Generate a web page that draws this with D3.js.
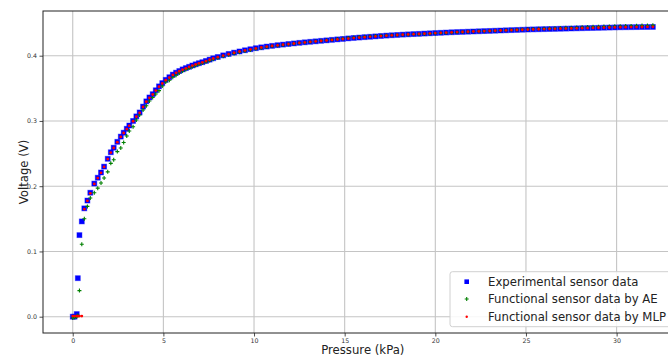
<!DOCTYPE html>
<html><head><meta charset="utf-8">
<script src="https://cdn.jsdelivr.net/npm/d3@7"></script>
<style>body{margin:0;background:#fff}svg{display:block}text{font-family:"DejaVu Sans",sans-serif}</style>
</head><body>
<svg id="c" width="668" height="356"></svg>
<script>
// Pressure (kPa), shared by all series
const pressure = [0,0.1,0.22,0.28,0.37,0.5,0.64,0.81,0.97,1.19,1.38,1.56,1.73,1.93,2.10,2.26,2.46,2.65,2.81,2.98,3.12,3.33,3.51,3.69,3.88,4.06,4.23,4.41,4.58,4.76,4.94,5.13,5.33,5.52,
5.70,5.88,6.06,6.24,6.42,6.60,6.78,6.96,7.15,7.35,7.55,7.75,8.0,
8.3,8.6,8.9,9.2,9.5,9.8,10.1,10.4,10.7,11.0,11.3,11.6,11.9,12.2,12.5,12.8,13.1,13.4,13.7,14.0,14.3,14.6,14.9,15.2,15.5,15.8,16.1,16.4,16.7,17.0,17.3,17.6,17.9,18.2,18.5,18.8,19.1,19.4,19.7,20.0,20.3,20.6,20.9,21.2,21.5,21.8,22.1,22.4,22.7,23.0,23.3,23.6,23.9,24.2,24.5,24.8,25.1,25.4,25.7,26.0,26.3,26.6,26.9,27.2,27.5,27.8,28.1,28.4,28.7,29.0,29.3,29.6,29.9,30.2,30.5,30.8,31.1,31.4,31.7,32.0];

const experimental = [0,0,0.004,0.059,0.125,0.146,0.166,0.178,0.190,0.204,0.213,0.221,0.230,0.242,0.252,0.259,0.268,0.276,0.282,0.288,0.293,0.300,0.307,0.313,0.322,0.330,0.336,0.341,0.347,0.353,0.358,0.363,0.367,0.371,
0.374,0.3765,0.379,0.381,0.383,0.385,0.3868,0.3885,0.390,0.392,0.394,0.396,0.398,
0.4005,0.4027,0.4047,0.4065,0.4083,0.4099,0.4115,0.4128,0.414,0.4151,0.4161,0.417,0.4179,0.4188,0.4197,0.4205,0.4213,0.422,0.4228,0.4235,0.4243,0.425,0.4257,0.4265,0.4272,0.4278,0.4284,0.429,0.4296,0.4302,0.4308,0.4313,0.4318,0.4323,0.4327,0.4331,0.4335,0.4339,0.4343,0.4347,0.4351,0.4355,0.4359,0.4362,0.4365,0.4368,0.4371,0.4374,0.4377,0.438,0.4383,0.4386,0.4389,0.4392,0.4395,0.4398,0.4401,0.4403,0.4405,0.4407,0.4409,0.4411,0.4413,0.4415,0.4417,0.4419,0.4421,0.4423,0.4425,0.4427,0.4429,0.4431,0.4433,0.4435,0.4436,0.4437,0.4438,0.4439,0.444,0.4441];

const aeFunctional = [-0.002,-0.001,0.0,0.002,0.040,0.111,0.150,0.169,0.182,0.190,0.197,0.205,0.2125,0.222,0.235,0.2406,0.253,0.2585,0.267,0.277,0.2846,0.291,0.3015,0.309,0.3168,0.3234,0.3306,0.336,0.3413,0.3464,0.3536,0.3597,0.3623,0.367,
0.3700,0.3735,0.3765,0.379,0.381,0.383,0.385,0.387,0.3888,0.3906,0.3925,0.3945,0.3967,
0.3992,0.4014,0.4035,0.4054,0.4072,0.4089,0.4105,0.4119,0.4132,0.4144,0.4155,0.4165,0.4175,0.4185,0.4194,0.4203,0.4212,0.4221,0.4229,0.4237,0.4246,0.4254,0.4262,0.4271,0.4279,0.4286,0.4292,0.4298,0.4303,0.4307,0.4311,0.4314,0.4317,0.432,0.4323,0.4327,0.433,0.4334,0.4338,0.4342,0.4346,0.435,0.4354,0.4358,0.4362,0.4366,0.437,0.4373,0.4376,0.4379,0.4383,0.4387,0.4391,0.4395,0.4399,0.4403,0.4406,0.4409,0.4412,0.4415,0.4418,0.4421,0.4424,0.4427,0.443,0.4433,0.4436,0.4439,0.4442,0.4445,0.4447,0.4449,0.4451,0.4453,0.4455,0.4457,0.4459,0.4461,0.4463,0.4465];

const mlpFunctional = [0.001,0.001,0.001,0.001,0.001,0.001,0.165,0.1775,0.189,0.2035,0.2125,0.2205,0.2295,0.2415,0.2515,0.2585,0.2675,0.2755,0.2815,0.2875,0.2925,0.2995,0.3065,0.3125,0.3215,0.3295,0.3355,0.3405,0.3465,0.3525,0.3575,0.3625,0.3665,0.3705,
0.3738,0.3762,0.3786,0.3807,0.3828,0.3848,0.3866,0.3883,0.3899,0.3918,0.3938,0.3957,0.3978,
0.4002,0.4024,0.4045,0.4064,0.4081,0.4097,0.4112,0.4126,0.4138,0.4149,0.4159,0.4169,0.4178,0.4187,0.4196,0.4204,0.4212,0.422,0.4227,0.4234,0.4242,0.4249,0.4256,0.4263,0.427,0.4277,0.4283,0.4289,0.4295,0.4301,0.4307,0.4312,0.4317,0.4322,0.4326,0.433,0.4334,0.4338,0.4342,0.4346,0.435,0.4354,0.4358,0.4362,0.4365,0.4368,0.4371,0.4374,0.4377,0.438,0.4383,0.4386,0.4389,0.4392,0.4395,0.4398,0.4401,0.4403,0.4405,0.4408,0.441,0.4412,0.4414,0.4416,0.4418,0.442,0.4422,0.4424,0.4426,0.4428,0.443,0.4432,0.4434,0.4436,0.4437,0.4438,0.4439,0.444,0.4441,0.4442];

const xTicks = [0,5,10,15,20,25,30];
const yTicks = [0.0,0.1,0.2,0.3,0.4];
const seriesNames = ["Experimental sensor data","Functional sensor data by AE","Functional sensor data by MLP"];
const xLabel = "Pressure (kPa)";
const yLabel = "Voltage (V)";

const svg = d3.select("#c");
const L = 43, R = 682.6, T = 11, B = 333;
const x = d3.scaleLinear().domain([-1.64, 33.64]).range([L, R]);
const y = d3.scaleLinear().domain([-0.025, 0.4685]).range([B, T]);

svg.append("defs").append("clipPath").attr("id","clip")
  .append("rect").attr("x",L).attr("y",T).attr("width",R-L).attr("height",B-T);

// grid
const grid = svg.append("g").attr("clip-path","url(#clip)");
grid.selectAll("line.gx").data(xTicks).join("line")
  .attr("x1",d=>x(d)).attr("x2",d=>x(d)).attr("y1",T).attr("y2",B)
  .attr("stroke","#c4c4c4").attr("stroke-width",1.1);
grid.selectAll("line.gy").data(yTicks).join("line")
  .attr("y1",d=>y(d)).attr("y2",d=>y(d)).attr("x1",L).attr("x2",R)
  .attr("stroke","#c4c4c4").attr("stroke-width",1.1);

const n = Math.min(pressure.length, experimental.length, aeFunctional.length, mlpFunctional.length);
const idx = d3.range(n);
const plot = svg.append("g").attr("clip-path","url(#clip)");

plot.append("g").selectAll("rect").data(idx).join("rect")
  .attr("x",i=>x(pressure[i])-2.5).attr("y",i=>y(experimental[i])-2.5)
  .attr("width",5).attr("height",5).attr("fill","#0000ff")
  .attr("stroke","#0000ff").attr("stroke-opacity",0.45).attr("stroke-width",0.9);

plot.append("g").selectAll("path").data(idx).join("path")
  .attr("transform",i=>`translate(${x(pressure[i])},${y(aeFunctional[i])})`)
  .attr("d","M-2,0H2M0,-2V2").attr("stroke","#008000").attr("stroke-width",1.1).attr("fill","none");

plot.append("g").selectAll("circle").data(idx).join("circle")
  .attr("cx",i=>x(pressure[i])).attr("cy",i=>y(mlpFunctional[i]))
  .attr("r",1.4).attr("fill","#ff0000");

// axes
const xAxis = d3.axisBottom(x).tickValues(xTicks).tickSize(3.5).tickPadding(2).tickFormat(d3.format("d"));
const gx = svg.append("g").attr("transform",`translate(0,${B})`).call(xAxis);
gx.select(".domain").remove();
gx.selectAll("text").attr("font-size","6.3px").attr("fill","#333").attr("font-family","DejaVu Sans");
gx.selectAll("line").attr("stroke","#222").attr("stroke-width",0.8);

const yAxis = d3.axisLeft(y).tickValues(yTicks).tickSize(3.5).tickPadding(2.5).tickFormat(d3.format(".1f"));
const gy = svg.append("g").attr("transform",`translate(${L},0)`).call(yAxis);
gy.select(".domain").remove();
gy.selectAll("text").attr("font-size","6.3px").attr("fill","#333").attr("font-family","DejaVu Sans");
gy.selectAll("line").attr("stroke","#222").attr("stroke-width",0.8);

// spines
svg.append("rect").attr("x",L).attr("y",T).attr("width",R-L).attr("height",B-T)
  .attr("fill","none").attr("stroke","#222").attr("stroke-width",1);

// labels
svg.append("text").attr("x",(L+R)/2).attr("y",353.5).attr("text-anchor","middle")
  .attr("font-size","11.7px").attr("fill","#222").text(xLabel);
svg.append("text").attr("transform",`translate(28,${(T+B)/2}) rotate(-90)`).attr("text-anchor","middle")
  .attr("font-size","11.7px").attr("fill","#222").text(yLabel);

// legend
const lg = svg.append("g");
lg.append("rect").attr("x",450).attr("y",271.7).attr("width",240).attr("height",55)
  .attr("rx",2.5).attr("fill","#fff").attr("fill-opacity",0.85).attr("stroke","#d0d0d0").attr("stroke-width",1);
const rowsY = [281.7, 299, 316.7];
const mx = 466.7;
lg.append("rect").attr("x",mx-2.3).attr("y",rowsY[0]-2.3).attr("width",4.6).attr("height",4.6).attr("fill","#0000ff");
lg.append("path").attr("transform",`translate(${mx},${rowsY[1]})`).attr("d","M-2,0H2M0,-2V2")
  .attr("stroke","#008000").attr("stroke-width",1.1);
lg.append("circle").attr("cx",mx).attr("cy",rowsY[2]).attr("r",1.2).attr("fill","#ff0000");
lg.selectAll("text").data(seriesNames).join("text")
  .attr("x",488).attr("y",(d,i)=>rowsY[i]).attr("dy","0.35em")
  .attr("font-size","11.7px").attr("fill","#222").text(d=>d);
</script>
</body></html>
